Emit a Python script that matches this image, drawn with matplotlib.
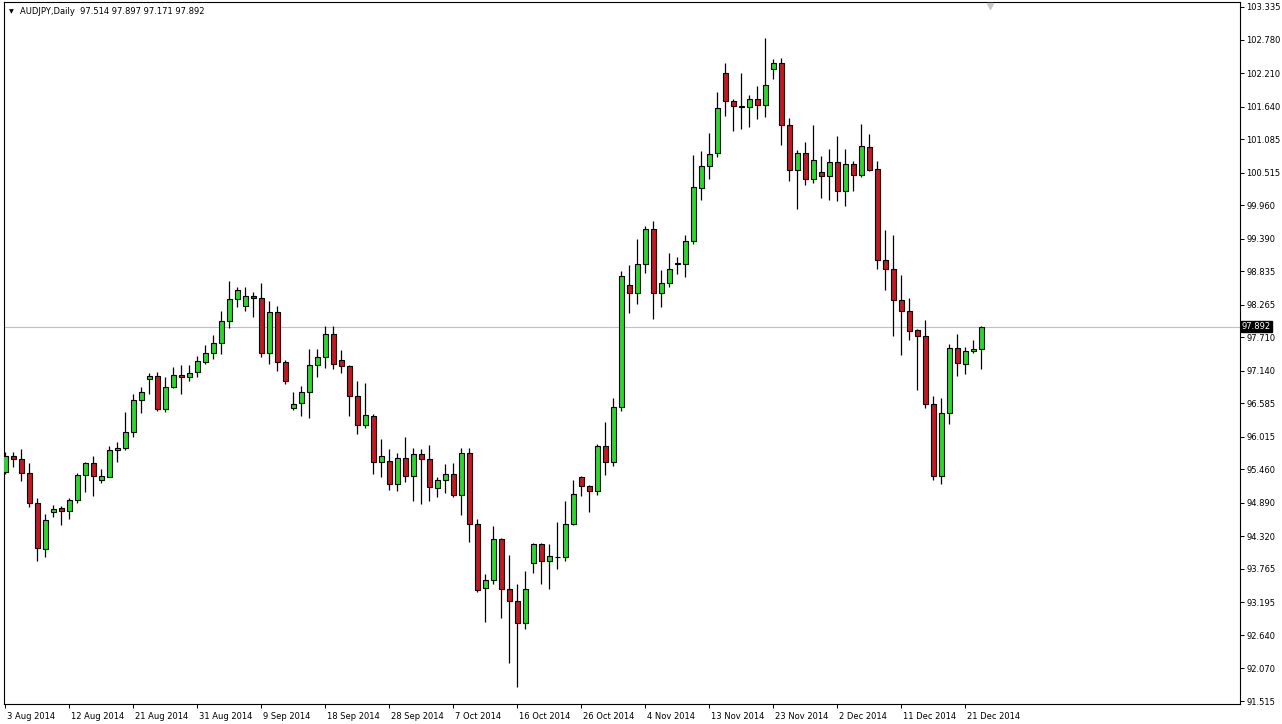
import matplotlib
matplotlib.use("Agg")
import matplotlib.pyplot as plt
import matplotlib.transforms as mtransforms
import numpy as np

# AUDJPY daily candles, 3 Aug 2014 .. 22 Dec 2014 (MT4 incl. Sunday bars)
opens = [
    95.416, 95.683, 95.632, 95.399, 94.883, 94.099, 94.729, 94.803, 94.747, 94.939,
    95.360, 95.564, 95.274, 95.336, 95.785, 95.819, 96.092, 96.637, 97.005, 97.046,
    96.494, 96.869, 97.063, 97.029, 97.114, 97.284, 97.437, 97.608, 97.982, 98.362,
    98.243, 98.413, 98.374, 97.437, 98.135, 97.284, 96.501, 96.586, 96.773, 97.233,
    97.369, 97.761, 97.318, 97.216, 96.705, 96.211, 96.364, 95.581, 95.598, 95.206,
    95.649, 95.343, 95.717, 95.632, 95.138, 95.274, 95.377, 95.019, 95.734, 94.525,
    93.435, 93.571, 94.270, 93.418, 93.214, 92.839, 93.861, 94.185, 93.895, 93.975,
    93.963, 94.525, 95.326, 95.172, 95.087, 95.853, 95.581, 96.518, 98.595, 98.459,
    98.953, 99.549, 98.459, 98.629, 98.958, 98.953, 99.345, 100.247, 100.622, 100.843,
    102.206, 101.729, 101.649, 101.627, 101.763, 101.661, 102.274, 102.381, 101.320, 100.554,
    100.843, 100.401, 100.520, 100.452, 100.690, 100.196, 100.656, 100.469, 100.945, 100.571,
    99.021, 98.868, 98.340, 98.153, 97.834, 97.727, 96.569, 95.343, 96.416, 97.522,
    97.250, 97.471, 97.514,
]
highs = [
    95.756, 95.751, 95.808, 95.574, 94.968, 94.695, 94.854, 94.837, 94.973, 95.394,
    95.591, 95.688, 95.462, 95.859, 95.927, 96.433, 96.744, 96.863, 97.097, 97.114,
    97.039, 97.209, 97.238, 97.238, 97.391, 97.579, 97.749, 98.163, 98.669, 98.572,
    98.561, 98.481, 98.640, 98.328, 98.248, 97.323, 96.778, 96.880, 97.505, 97.505,
    97.902, 97.902, 97.493, 97.238, 96.966, 96.937, 96.398, 95.983, 95.808, 95.734,
    96.012, 95.825, 95.808, 95.870, 95.336, 95.552, 95.569, 95.825, 95.825, 94.621,
    93.674, 94.496, 94.287, 93.997, 93.503, 93.725, 94.202, 94.202, 94.185, 94.559,
    94.917, 95.274, 95.343, 95.189, 95.888, 96.262, 96.671, 98.844, 98.941, 99.384,
    99.605, 99.690, 98.856, 99.140, 99.072, 99.452, 100.814, 100.882, 101.184, 101.887,
    102.381, 101.763, 102.206, 101.831, 101.984, 102.802, 102.444, 102.466, 101.439, 100.899,
    101.031, 101.325, 100.792, 100.911, 101.133, 100.911, 100.707, 101.337, 101.167, 100.707,
    99.532, 99.447, 98.766, 98.374, 97.856, 97.999, 96.705, 96.671, 97.591, 97.761,
    97.539, 97.659, 97.897,
]
lows = [
    95.382, 95.506, 95.268, 94.815, 93.905, 93.963, 94.655, 94.513, 94.610, 94.883,
    95.080, 95.012, 95.234, 95.326, 95.591, 95.785, 96.017, 96.426, 96.744, 96.460,
    96.443, 96.841, 96.744, 96.971, 97.039, 97.250, 97.335, 97.420, 97.863, 98.221,
    98.163, 98.050, 97.379, 97.250, 97.141, 96.909, 96.472, 96.375, 96.341, 97.039,
    97.182, 97.175, 97.107, 96.375, 96.068, 96.170, 95.387, 95.336, 95.114, 95.097,
    95.251, 94.927, 94.866, 94.927, 94.995, 95.053, 94.995, 94.689, 94.219, 93.372,
    92.853, 93.503, 92.935, 92.168, 91.749, 92.737, 93.701, 93.503, 93.418, 93.759,
    93.895, 94.508, 95.002, 94.729, 95.019, 95.360, 95.513, 96.450, 98.118, 98.272,
    98.800, 98.021, 98.221, 98.572, 98.783, 98.742, 99.294, 100.043, 100.411, 100.785,
    101.484, 101.218, 101.262, 101.296, 101.422, 101.456, 102.104, 100.990, 100.377, 99.900,
    100.309, 100.332, 100.087, 100.053, 100.036, 99.951, 100.196, 100.435, 100.537, 98.873,
    98.520, 97.737, 97.413, 97.669, 96.817, 96.501, 95.280, 95.206, 96.228, 97.046,
    97.080, 97.437, 97.171,
]
closes = [
    95.688, 95.632, 95.394, 94.883, 94.116, 94.598, 94.786, 94.747, 94.939, 95.360,
    95.564, 95.348, 95.348, 95.785, 95.819, 96.092, 96.637, 96.773, 97.051, 96.494,
    96.858, 97.063, 97.029, 97.097, 97.306, 97.442, 97.608, 97.987, 98.362, 98.510,
    98.413, 98.374, 97.437, 98.135, 97.284, 96.960, 96.569, 96.773, 97.233, 97.369,
    97.761, 97.250, 97.216, 96.705, 96.211, 96.381, 95.581, 95.683, 95.206, 95.649,
    95.343, 95.717, 95.632, 95.155, 95.274, 95.377, 95.019, 95.734, 94.525, 93.401,
    93.571, 94.270, 93.418, 93.214, 92.839, 93.418, 94.185, 93.895, 93.980, 93.965,
    94.525, 95.036, 95.172, 95.087, 95.853, 95.581, 96.518, 98.754, 98.459, 98.953,
    99.549, 98.459, 98.629, 98.868, 98.968, 99.345, 100.264, 100.622, 100.826, 101.610,
    101.729, 101.644, 101.639, 101.763, 101.661, 102.001, 102.381, 101.320, 100.554, 100.843,
    100.401, 100.724, 100.452, 100.690, 100.196, 100.656, 100.469, 100.963, 100.564, 99.021,
    98.868, 98.340, 98.153, 97.812, 97.727, 96.569, 95.343, 96.416, 97.522, 97.267,
    97.471, 97.505, 97.892,
]

date_ticks = [0, 8, 16, 24, 32, 40, 48, 56, 64, 72, 80, 88, 96, 104, 112, 120]
date_labels = [
    "3 Aug 2014", "12 Aug 2014", "21 Aug 2014", "31 Aug 2014", "9 Sep 2014",
    "18 Sep 2014", "28 Sep 2014", "7 Oct 2014", "16 Oct 2014", "26 Oct 2014",
    "4 Nov 2014", "13 Nov 2014", "23 Nov 2014", "2 Dec 2014", "11 Dec 2014",
    "21 Dec 2014",
]
price_ticks = [
    103.335, 102.780, 102.210, 101.640, 101.085, 100.515, 99.960, 99.390, 98.835,
    98.265, 97.710, 97.140, 96.585, 96.015, 95.460, 94.890, 94.320, 93.765,
    93.195, 92.640, 92.070, 91.515,
]
last_price = 97.892

plt.rcParams["font.family"] = ["DejaVu Sans"]

W, H = 1282, 724
fig = plt.figure(figsize=(W / 100, H / 100), dpi=100)
ax = fig.add_axes([4 / W, 1 - 704 / H, (1240 - 4) / W, (704 - 2) / H])

o = np.array(opens); h = np.array(highs); l = np.array(lows); c = np.array(closes)
x = np.arange(len(o))
up = c >= o
col = np.where(up, "#22dd22", "#cc1520")

ax.axhline(last_price, color="#c0c0c0", lw=0.8, zorder=1)
ax.vlines(x, l, h, color="black", lw=0.9, zorder=2)
body_h = np.maximum(np.abs(c - o), 0.004)
ax.bar(x, body_h, bottom=np.minimum(o, c), width=0.62, color=col,
       edgecolor="black", linewidth=0.8, zorder=3)

ax.set_xlim(-0.1625, 154.34)
ax.set_ylim(91.465, 103.42)

for s in ax.spines.values():
    s.set_color("black")
    s.set_linewidth(0.8)

ax.yaxis.tick_right()
ax.set_yticks(price_ticks)
ax.set_yticklabels([f"{v:.3f}" for v in price_ticks])
ax.tick_params(axis="y", direction="out", length=3, width=0.7, pad=1.5,
               labelsize=6, colors="black")

ax.set_xticks(date_ticks)
ax.set_xticklabels(date_labels)
ax.tick_params(axis="x", direction="out", length=3, width=0.7, pad=3,
               labelsize=6, colors="black")
shift = mtransforms.ScaledTranslation(2 / 100, 0, fig.dpi_scale_trans)
for lab in ax.get_xticklabels():
    lab.set_horizontalalignment("left")
    lab.set_transform(lab.get_transform() + shift)

# current price box on the price scale
ax.text(1.0015, last_price, f"{last_price:.3f}", transform=ax.get_yaxis_transform(),
        ha="left", va="center", fontsize=6, color="white",
        bbox=dict(boxstyle="square,pad=0.15", fc="black", ec="black"))

# title line
fig.text(11 / W, 1 - 12 / H, "\u25bc", fontsize=4.5, ha="center", va="center")
fig.text(20 / W, 1 - 12 / H, "AUDJPY,Daily  97.514 97.897 97.171 97.892",
         fontsize=6, ha="left", va="center")

# chart shift marker
ax.plot([123.1], [103.36], marker="v", color="#c8c8c8", markersize=5,
        clip_on=False, zorder=5)

fig.savefig("out.png", dpi=100, facecolor="white")
